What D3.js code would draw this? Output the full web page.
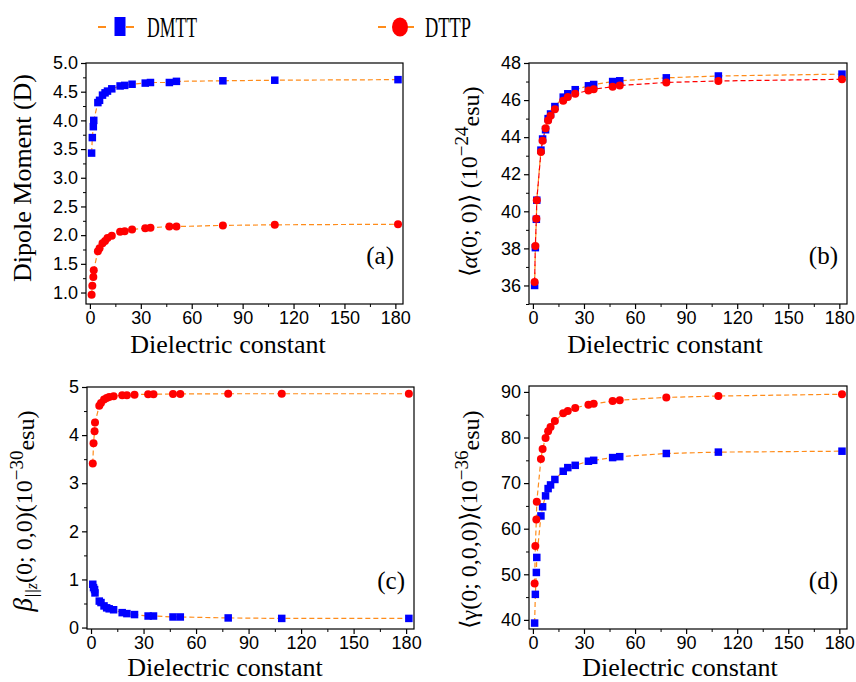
<!DOCTYPE html>
<html>
<head>
<meta charset="utf-8">
<script src="https://cdn.jsdelivr.net/npm/d3@7"></script>
<style>
  body { margin: 0; background: #fff; }
  svg { display: block; }
  .tick text { font-family: "Liberation Sans", Arial, sans-serif; font-size: 18px; fill: #000; }
</style>
</head>
<body>
<div id="chart"></div>
<script>
// dielectric constants of the solvents (shared x values)
const epsilon = [1.0, 1.43, 2.02, 2.27, 4.71, 5.69, 7.43, 8.93, 10.36, 12.9, 17.8, 20.49, 24.85, 32.61, 35.69, 46.83, 51.0, 78.36, 108.94, 181.56];

// (a) dipole moment (D)
const dipoleDMTT = [3.43, 3.70, 3.89, 4.00, 4.31, 4.35, 4.44, 4.48, 4.51, 4.55, 4.60, 4.61, 4.63, 4.65, 4.66, 4.66, 4.68, 4.69, 4.70, 4.71];
const dipoleDTTP = [0.96, 1.12, 1.27, 1.39, 1.72, 1.77, 1.86, 1.90, 1.95, 1.99, 2.06, 2.07, 2.10, 2.12, 2.13, 2.15, 2.15, 2.17, 2.18, 2.19];

// (b) <alpha(0;0)> (10^-24 esu)
const alphaDMTT = [36.0, 38.04, 39.57, 40.6, 43.3, 43.9, 44.4, 45.0, 45.25, 45.65, 46.16, 46.34, 46.56, 46.77, 46.84, 47.0, 47.04, 47.2, 47.3, 47.4];
const alphaDTTP = [36.18, 38.13, 39.6, 40.6, 43.2, 43.8, 44.48, 44.9, 45.15, 45.5, 45.96, 46.16, 46.34, 46.52, 46.59, 46.72, 46.79, 46.95, 47.03, 47.12];

// (c) beta||z(0;0,0) (10^-30 esu)
const betaDMTT = [0.90, 0.83, 0.79, 0.72, 0.55, 0.52, 0.45, 0.41, 0.39, 0.37, 0.31, 0.29, 0.27, 0.24, 0.24, 0.22, 0.22, 0.20, 0.19, 0.19];
const betaDTTP = [3.41, 3.83, 4.08, 4.26, 4.61, 4.67, 4.74, 4.77, 4.79, 4.81, 4.83, 4.83, 4.84, 4.85, 4.85, 4.855, 4.855, 4.86, 4.86, 4.86];

// (d) <gamma(0;0,0,0)> (10^-36 esu)
const gammaDMTT = [39.3, 45.6, 50.4, 53.7, 62.8, 64.8, 67.2, 68.8, 69.6, 70.8, 72.6, 73.4, 73.9, 74.8, 75.0, 75.6, 75.8, 76.5, 76.8, 77.0];
const gammaDTTP = [48.0, 56.2, 62.0, 65.9, 75.3, 77.5, 79.9, 81.4, 82.3, 83.6, 85.3, 85.8, 86.5, 87.2, 87.4, 88.0, 88.2, 88.8, 89.1, 89.5];

const xTicks = [0, 30, 60, 90, 120, 150, 180];
const seriesNames = ["DMTT", "DTTP"];

const W = 856, H = 682;
const blue = "#0000ff", red = "#ff0000", orange = "#ff8c1a";
const serif = "'Liberation Serif', 'Times New Roman', serif";

const svg = d3.select("#chart").append("svg").attr("width", W).attr("height", H);

const panels = [
  { id: "a", box: [86, 403, 63, 304], yDom: [0.8, 5.0], yTicks: d3.range(1, 5.01, 0.5), yMinor: 0.25, fmt: d3.format(".1f"),
    dmtt: dipoleDMTT, dttp: dipoleDTTP, dttpLine: orange, titleX: 228, titleY: 353, yl: { x: 31, y: 178 }, label: "(a)" },
  { id: "b", box: [529, 847, 63, 304], yDom: [35, 48], yTicks: d3.range(36, 48.1, 2), yMinor: 1, fmt: d3.format("d"),
    dmtt: alphaDMTT, dttp: alphaDTTP, dttpLine: red, titleX: 665, titleY: 353, yl: { x: 477, y: 182 }, label: "(b)" },
  { id: "c", box: [87, 414, 387, 629], yDom: [-0.03, 5.0], yTicks: d3.range(0, 5.1, 1), yMinor: 0.5, fmt: d3.format("d"),
    dmtt: betaDMTT, dttp: betaDTTP, dttpLine: orange, titleX: 225, titleY: 676, yl: { x: 32, y: 511 }, label: "(c)" },
  { id: "d", box: [529, 847, 386, 629], yDom: [38, 91.3], yTicks: d3.range(40, 90.1, 10), yMinor: 5, fmt: d3.format("d"),
    dmtt: gammaDMTT, dttp: gammaDTTP, dttpLine: orange, titleX: 680, titleY: 676, yl: { x: 477, y: 520 }, label: "(d)" }
];

panels.forEach(p => {
  const [x0, x1, y0, y1] = p.box;
  const x = d3.scaleLinear().domain([-2.3, 184.5]).range([x0, x1]);
  const y = d3.scaleLinear().domain(p.yDom).range([y1, y0]);
  const g = svg.append("g");

  // frame
  g.append("rect").attr("x", x0).attr("y", y0).attr("width", x1 - x0).attr("height", y1 - y0)
    .attr("fill", "none").attr("stroke", "#000").attr("stroke-width", 1.2);

  // x axis
  const xa = g.append("g").attr("transform", `translate(0,${y1})`)
    .call(d3.axisBottom(x).tickValues(xTicks).tickSize(5).tickPadding(2));
  xa.select(".domain").remove();
  xa.selectAll(".tick line").attr("stroke-width", 1.2);
  g.append("g").attr("transform", `translate(0,${y1})`)
    .call(d3.axisBottom(x).tickValues(d3.range(15, 180, 30)).tickSize(3).tickFormat(""))
    .call(s => s.select(".domain").remove());

  // y axis
  const ya = g.append("g").attr("transform", `translate(${x0},0)`)
    .call(d3.axisLeft(y).tickValues(p.yTicks).tickSize(5).tickPadding(3).tickFormat(p.fmt));
  ya.select(".domain").remove();
  ya.selectAll(".tick line").attr("stroke-width", 1.2);
  const minor = d3.range(p.yTicks[0] - p.yMinor, p.yDom[1] + 1e-9, p.yMinor * 2).filter(v => v >= p.yDom[0]);
  g.append("g").attr("transform", `translate(${x0},0)`)
    .call(d3.axisLeft(y).tickValues(minor).tickSize(3).tickFormat(""))
    .call(s => s.select(".domain").remove());

  // lines
  const mk = vals => epsilon.map((e, i) => ({ x: e, y: vals[i] }));
  const line = d3.line().x(d => x(d.x)).y(d => y(d.y));
  g.append("path").datum(mk(p.dmtt)).attr("d", line).attr("fill", "none")
    .attr("stroke", orange).attr("stroke-width", 1.2).attr("stroke-dasharray", "5,3");
  g.append("path").datum(mk(p.dttp)).attr("d", line).attr("fill", "none")
    .attr("stroke", p.dttpLine).attr("stroke-width", 1.2).attr("stroke-dasharray", "5,3");

  // markers (DMTT squares drawn first, DTTP circles on top)
  const s = 7.5;
  g.selectAll(".sq").data(mk(p.dmtt)).join("rect")
    .attr("x", d => x(d.x) - s / 2).attr("y", d => y(d.y) - s / 2)
    .attr("width", s).attr("height", s).attr("fill", blue);
  g.selectAll(".ci").data(mk(p.dttp)).join("circle")
    .attr("cx", d => x(d.x)).attr("cy", d => y(d.y)).attr("r", 4).attr("fill", red);

  // x title
  g.append("text").attr("font-family", serif).attr("x", p.titleX).attr("y", p.titleY)
    .attr("text-anchor", "middle").attr("font-size", 26).text("Dielectric constant");

  // panel label
  g.append("text").attr("font-family", serif).attr("x", x1 - 9).attr("y", y1 - 40)
    .attr("text-anchor", "end").attr("font-size", 25).text(p.label);

  // y title
  const yt = g.append("text").attr("font-family", serif)
    .attr("transform", `translate(${p.yl.x},${p.yl.y}) rotate(-90)`)
    .attr("text-anchor", "middle").attr("font-size", p.id === "a" ? 26 : 24);
  if (p.id === "a") {
    yt.text("Dipole Moment (D)");
  } else if (p.id === "b") {
    yt.append("tspan").text("\u27E8");
    yt.append("tspan").attr("font-style", "italic").text("\u03B1");
    yt.append("tspan").text("(0; 0)\u27E9 (10");
    yt.append("tspan").attr("dy", "-0.45em").attr("font-size", 19).text("\u221224");
    yt.append("tspan").attr("dy", "0.45em").text("esu)");
  } else if (p.id === "c") {
    yt.append("tspan").attr("font-style", "italic").attr("font-size", 27).text("\u03B2");
    yt.append("tspan").attr("dy", "0.3em").attr("font-size", 16).attr("font-style", "italic").text("||z");
    yt.append("tspan").attr("dy", "-0.2em").text("(0; 0,0)(10");
    yt.append("tspan").attr("dy", "-0.45em").attr("font-size", 19).text("\u221230");
    yt.append("tspan").attr("dy", "0.45em").text("esu)");
  } else {
    yt.append("tspan").text("\u27E8\u03B3(0; 0,0,0)\u27E9(10");
    yt.append("tspan").attr("dy", "-0.45em").attr("font-size", 19).text("\u221236");
    yt.append("tspan").attr("dy", "0.45em").text("esu)");
  }
});

// legend
const legend = [
  { name: seriesNames[0], cx: 120, color: blue, shape: "square", tx: 147, tw: 50 },
  { name: seriesNames[1], cx: 400, color: red, shape: "circle", tx: 425, tw: 46 }
];
legend.forEach(l => {
  const lg = svg.append("g");
  lg.append("line").attr("x1", l.cx - 22).attr("x2", l.cx - 14).attr("y1", 27).attr("y2", 27)
    .attr("stroke", orange).attr("stroke-width", 2);
  lg.append("line").attr("x1", l.cx + 6).attr("x2", l.cx + 14).attr("y1", 27).attr("y2", 27)
    .attr("stroke", orange).attr("stroke-width", 2);
  if (l.shape === "square") {
    lg.append("rect").attr("x", l.cx - 5.5).attr("y", 17).attr("width", 11).attr("height", 19).attr("fill", l.color);
  } else {
    lg.append("ellipse").attr("cx", l.cx).attr("cy", 27).attr("rx", 8).attr("ry", 9.5).attr("fill", l.color);
  }
  lg.append("text").attr("font-family", serif).attr("x", l.tx).attr("y", 37).attr("font-size", 30)
    .attr("textLength", l.tw).attr("lengthAdjust", "spacingAndGlyphs").text(l.name);
});
</script>
</body>
</html>
